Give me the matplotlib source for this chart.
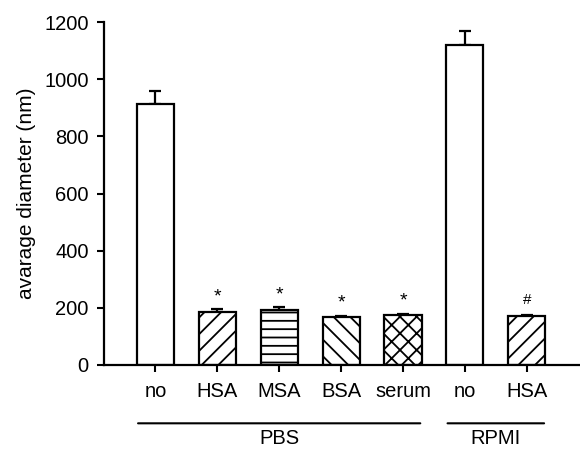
import numpy as np
import matplotlib
matplotlib.use("Agg")
import matplotlib.pyplot as plt

plt.rcParams['font.family'] = ['Liberation Sans', 'DejaVu Sans']
plt.rcParams['hatch.linewidth'] = 1.3

# data
labels = ["no", "HSA", "MSA", "BSA", "serum", "no", "HSA"]
means = [912, 186, 194, 167, 175, 1121, 170]
errors = [48, 10, 9, 5, 5, 47, 5]
hatches = ["", "//", "--", "\\\\", "xx", "", "//"]
marks = ["", "*", "*", "*", "*", "", "#"]
groups = ["PBS", "RPMI"]
group_spans = [(0, 4), (5, 6)]

fig = plt.figure(figsize=(5.8, 4.49), dpi=100)
ax = fig.add_axes([104 / 580, 84 / 449, 476 / 580, 343 / 449])

x = np.arange(len(labels))
ax.bar(x, means, width=0.6, color="white", edgecolor="black",
       linewidth=1.6, hatch=hatches, zorder=2)
ax.errorbar(x, means, yerr=[np.zeros(len(means)), errors], fmt="none",
            ecolor="black", elinewidth=1.6, capsize=4, capthick=1.6, zorder=1)

# significance marks
for xi, m, e, s in zip(x, means, errors, marks):
    if s:
        fs = 14 if s == "*" else 11
        off = 9 if s == "*" else 11
        ax.annotate(s, (xi, m + e), xytext=(0, off), textcoords="offset points",
                    ha="center", va="center", fontsize=fs)

ax.set_xlim(-0.83, 6.86)
ax.set_ylim(0, 1200)
ax.set_yticks(range(0, 1201, 200))
ax.set_xticks(x)
ax.set_xticklabels(labels)
ax.tick_params(axis="both", direction="out", length=5, width=1.5,
               labelsize=14.5, color="black")
ax.tick_params(axis="x", pad=7)
ax.tick_params(axis="y", pad=6)
ax.set_ylabel("avarage diameter (nm)", fontsize=15, labelpad=6)

for side in ["top", "right"]:
    ax.spines[side].set_visible(False)
for side in ["left", "bottom"]:
    ax.spines[side].set_linewidth(1.6)

# group brackets below tick labels
for name, (a, b) in zip(groups, group_spans):
    ax.annotate("", xy=(a - 0.28, -0.17), xytext=(b + 0.28, -0.17),
                xycoords=("data", "axes fraction"),
                textcoords=("data", "axes fraction"),
                arrowprops=dict(arrowstyle="-", lw=1.5, color="black",
                                shrinkA=0, shrinkB=0))
    ax.text((a + b) / 2, -0.215, name, transform=ax.get_xaxis_transform(),
            ha="center", va="center", fontsize=14.5)

fig.savefig("out.png", dpi=100)
